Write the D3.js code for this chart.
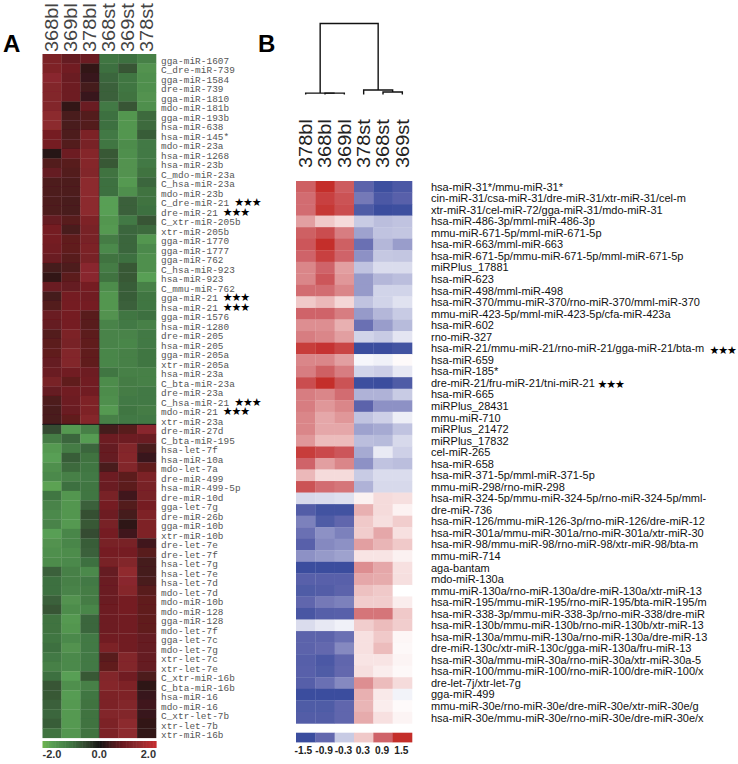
<!DOCTYPE html>
<html><head><meta charset="utf-8">
<script src="https://cdn.jsdelivr.net/npm/d3@7/dist/d3.min.js"></script>
<style>html,body{margin:0;padding:0;background:#fff}svg{display:block}</style>
</head><body><svg id="c" width="738" height="764"><defs><filter id="soft" x="-2%" y="-2%" width="104%" height="104%"><feGaussianBlur stdDeviation="0.45"/></filter></defs></svg>
<script>
const aColumns=["368bl","369bl","378bl","368st","369st","378st"];
const aRows=["gga-miR-1607","C_dre-miR-739","gga-miR-1584","dre-miR-739","gga-miR-1810","mdo-miR-181b","gga-miR-193b","hsa-miR-638","hsa-miR-145*","mdo-miR-23a","hsa-miR-1268","hsa-miR-23b","C_mdo-miR-23a","C_hsa-miR-23a","mdo-miR-23b","C_dre-miR-21","dre-miR-21","C_xtr-miR-205b","xtr-miR-205b","gga-miR-1770","gga-miR-1777","gga-miR-762","C_hsa-miR-923","hsa-miR-923","C_mmu-miR-762","gga-miR-21","hsa-miR-21","gga-miR-1576","hsa-miR-1280","dre-miR-205","hsa-miR-205","gga-miR-205a","xtr-miR-205a","hsa-miR-23a","C_bta-miR-23a","dre-miR-23a","C_hsa-miR-21","mdo-miR-21","xtr-miR-23a","dre-miR-27d","C_bta-miR-195","hsa-let-7f","hsa-miR-10a","mdo-let-7a","dre-miR-499","hsa-miR-499-5p","dre-miR-10d","gga-let-7g","dre-miR-26b","gga-miR-10b","xtr-miR-10b","dre-let-7e","dre-let-7f","hsa-let-7g","hsa-let-7e","hsa-let-7d","mdo-let-7d","mdo-miR-10b","mdo-miR-128","gga-miR-128","mdo-let-7f","gga-let-7c","mdo-let-7g","xtr-let-7c","xtr-let-7e","C_xtr-miR-16b","C_bta-miR-16b","hsa-miR-16","mdo-miR-16","C_xtr-let-7b","xtr-let-7b","xtr-miR-16b"];
const aValues=[
[1.05,.75,.8,-1.05,-.95,-1.2],[1.1,.9,.25,-.95,-.65,-1.5],[1.25,.8,.3,-.85,-1.05,-1.45],[1.15,.85,.4,-.8,-1.05,-1.45],[1.15,.85,.3,-.8,-1,-1.5],[1.15,.25,.8,-1.1,-.65,-1.45],
[1.3,.45,.55,-.95,-1.55,-.9],[1.3,.45,.55,-.95,-1.55,-.9],[.95,.5,1.05,-1.1,-1.55,-.75],[.95,.55,1,-1.05,-1.4,-1.1],[.15,.85,1.2,-.7,-1.45,-1.1],[.55,.6,1.2,-.7,-1.5,-1.1],
[.75,.55,1.15,-1,-1.5,-1],[.5,.5,1.3,-.95,-1.6,-.85],[.5,.5,1.3,-.95,-1.45,-1],[.5,.45,1.3,-1.7,-.8,-1],[.5,.45,1.3,-1.7,-.8,-.95],[.75,.6,1.1,-1.55,-1.1,-.65],
[.95,.45,1,-1.6,-.85,-.9],[.95,.7,1,-1.15,-.85,-1.55],[.9,.7,1.05,-1.35,-.85,-1.35],[.8,.6,1,-1,-.95,-1.45],[.4,.5,1.25,-1.15,-.7,-1.45],[.25,.65,1.25,-1,-.7,-1.7],
[.8,.75,.95,-1.4,-.75,-1.2],[.4,.95,.9,-1.55,-.75,-1.05],[.55,.95,.95,-1.55,-.8,-1.05],[.8,.95,.6,-1.5,-1.05,-.95],[.75,.95,.6,-1.25,-1.1,-1.2],[.55,1.05,.65,-1.25,-1.25,-1.1],
[.65,1,.7,-1.25,-1.3,-1.1],[.7,1.15,.7,-1.3,-1.2,-1.05],[.75,1.15,.7,-1.3,-1.2,-1.05],[.8,.9,.85,-1.05,-1.2,-1.2],[1,.7,.9,-1.4,-1.15,-1.2],[.75,.9,.9,-1.4,-1.15,-1.1],
[.5,.85,1.1,-1.45,-1.1,-1.1],[.45,.8,1.1,-1.6,-1.05,-1.15],[.45,.7,1.2,-1.2,-1.1,-1.1],[-.55,-1.6,-1.2,.4,.6,1.25],[-1.15,-.85,-1.65,.85,.85,.8],[-1.6,-1.15,-.85,.75,1.15,.45],
[-1.7,-.75,-1,.75,1.2,.3],[-1.45,-.9,-1.05,.45,1.15,.7],[-1.35,-1.2,-1.1,.85,.65,1.05],[-1.75,-.95,-1.05,.8,.65,1],[-1.05,-1.55,-1.05,1,.35,1],[-1.25,-1.55,-.8,.95,.55,.95],
[-1.35,-1.55,-.6,.85,.4,1.1],[-1.25,-1.6,-.7,1,.2,1.1],[-1.7,-1.3,-.55,.95,.35,1.1],[-1.5,-1.3,-.75,1,1,.35],[-1.45,-1.4,-.8,.95,.95,.6],[-1.4,-1.35,-.95,1,1.15,.4],
[-.8,-1.2,-1.35,.75,1.35,.4],[-.95,-1.2,-1.1,.8,1.25,.45],[-.95,-1.25,-1.15,.8,1.2,.6],[-.8,-1.5,-1.15,.8,.95,.7],[-.65,-1.4,-1.3,.85,.95,.7],[-1,-1.6,-.85,.85,.9,.7],
[-1,-1.55,-.85,.85,.9,.7],[-1.05,-1.35,-1.1,.9,.9,.75],[-.95,-1.5,-1.1,1.05,.9,.75],[-1.1,-1.35,-1.1,.6,1.15,.75],[-1.2,-1.35,-1.1,.7,1.15,.75],[-.95,-1.7,-.7,1.15,.9,.5],
[-.65,-1.45,-1.2,1.2,1.1,.2],[-.7,-1.65,-1.05,1.05,1.1,.3],[-.8,-1.6,-1,1.05,1.15,.35],[-.85,-1.6,-1,1.15,1.15,.3],[-.75,-1.6,-1,1.05,1.3,.25],[-1,-1.55,-1,1.05,1.3,.25]];
const aStarred=["C_dre-miR-21","dre-miR-21","gga-miR-21","hsa-miR-21","C_hsa-miR-21","mdo-miR-21"];
const aLegendTicks=[-2,0,2];

const bColumns=["378bl","368bl","369bl","378st","368st","369st"];
const bRows=["hsa-miR-31*/mmu-miR-31*","cin-miR-31/csa-miR-31/dre-miR-31/xtr-miR-31/cel-m","xtr-miR-31/cel-miR-72/gga-miR-31/mdo-miR-31","hsa-miR-486-3p/mml-miR-486-3p","mmu-miR-671-5p/mml-miR-671-5p","hsa-miR-663/mml-miR-663","hsa-miR-671-5p/mmu-miR-671-5p/mml-miR-671-5p","miRPlus_17881","hsa-miR-623","hsa-miR-498/mml-miR-498","hsa-miR-370/mmu-miR-370/rno-miR-370/mml-miR-370","mmu-miR-423-5p/mml-miR-423-5p/cfa-miR-423a","hsa-miR-602","rno-miR-327","hsa-miR-21/mmu-miR-21/rno-miR-21/gga-miR-21/bta-m","hsa-miR-659","hsa-miR-185*","dre-miR-21/fru-miR-21/tni-miR-21","hsa-miR-665","miRPlus_28431","mmu-miR-710","miRPlus_21472","miRPlus_17832","cel-miR-265","hsa-miR-658","hsa-miR-371-5p/mml-miR-371-5p","mmu-miR-298/rno-miR-298","hsa-miR-324-5p/mmu-miR-324-5p/rno-miR-324-5p/mml-","dre-miR-736","hsa-miR-126/mmu-miR-126-3p/rno-miR-126/dre-miR-12","hsa-miR-301a/mmu-miR-301a/rno-miR-301a/xtr-miR-30","hsa-miR-98/mmu-miR-98/rno-miR-98/xtr-miR-98/bta-m","mmu-miR-714","aga-bantam","mdo-miR-130a","mmu-miR-130a/rno-miR-130a/dre-miR-130a/xtr-miR-13","hsa-miR-195/mmu-miR-195/rno-miR-195/bta-miR-195/m","hsa-miR-338-3p/mmu-miR-338-3p/rno-miR-338/dre-miR","hsa-miR-130b/mmu-miR-130b/rno-miR-130b/xtr-miR-13","hsa-miR-130a/mmu-miR-130a/rno-miR-130a/dre-miR-13","dre-miR-130c/xtr-miR-130c/gga-miR-130a/fru-miR-13","hsa-miR-30a/mmu-miR-30a/rno-miR-30a/xtr-miR-30a-5","hsa-miR-100/mmu-miR-100/rno-miR-100/dre-miR-100/x","dre-let-7j/xtr-let-7g","gga-miR-499","mmu-miR-30e/rno-miR-30e/dre-miR-30e/xtr-miR-30e/g","hsa-miR-30e/mmu-miR-30e/rno-miR-30e/dre-miR-30e/x"];
const bValues=[
[.95,1.5,1,-1,-1.45,-1.25],[.85,1.3,1.1,-.8,-1.25,-1.05],[.85,1.4,1.15,-1.2,-1.5,-1.45],[.55,.3,.2,-.3,-.38,-.35],[.95,1.15,.75,-.55,-.35,-.33],[1.05,1.5,.95,-.85,-.42,-.58],
[.9,1.3,.9,-.65,-.32,-.33],[.7,.9,.55,-.35,-.2,-.2],[.7,1.05,.6,-.6,-.42,-.38],[.85,.85,.7,-.6,-.25,-.25],[.3,.4,.22,-.35,-.25,-.17],[.9,.9,.75,-.6,-.42,-.3],
[.65,.65,.45,-.85,-.58,-.4],[.75,.7,.55,-.25,-.3,-.15],[1.35,1.45,1.25,-1.5,-1.5,-1.4],[.7,.7,.55,-.05,-.08,.03],[.75,.95,.75,-.25,-.28,-.13],[1.15,1.5,1.1,-1.45,-1.5,-1.2],
[.75,.7,.85,-.45,-.45,-.3],[.75,.6,.7,-1,-.65,-.65],[.7,.5,.6,-.35,-.27,-.1],[.7,.5,.5,-.55,-.5,-.35],[.6,.38,.38,-.38,-.4,-.22],[1.35,1.2,1.05,-.5,-.12,-.27],
[.9,.55,.7,-.65,-.35,-.38],[.4,.2,.2,-.3,-.2,-.2],[1.1,.85,.8,-.45,-.22,-.22],[-.22,-.2,-.18,.08,.2,.18],[-1.15,-1.4,-1.4,.45,.2,.07],[-.75,-1.2,-.95,.3,.18,.28],
[-.85,-.65,-.75,.28,.5,.17],[-1.05,-.7,-.65,.55,.42,.3],[-.65,-.6,-.55,.15,.15,.08],[-1.5,-1.5,-1.5,.65,.5,.17],[-1.05,-1.05,-1.05,.5,.48,.18],[-1.2,-1.15,-1,.35,.3,0],
[-.95,-.8,-.75,.28,.28,.1],[-1.3,-1.1,-1.05,.8,.8,.3],[-.2,-.13,-.08,.28,.38,.28],[-1,-1,-.85,.17,.3,.05],[-1,-.9,-.7,.17,.38,.04],[-1.1,-1.25,-.95,.15,.15,.06],
[-1.05,-1.2,-.9,.18,.1,.04],[-1.1,-.85,-.7,.65,.38,.2],[-1.5,-1.5,-1.5,.45,.12,-.07],[-1.2,-1.2,-.95,.42,.1,.03],[-1.15,-1.15,-.95,.48,.17,.06]];
const bStarred=["hsa-miR-21/mmu-miR-21/rno-miR-21/gga-miR-21/bta-m","dre-miR-21/fru-miR-21/tni-miR-21"];
const bLegendTicks=[-1.5,-.9,-.3,.3,.9,1.5];
const dendroHeights={root:1,left:.02,right:.063,rightInner:.035,leaf:0};

const svg=d3.select("#c");
const sans="'Liberation Sans',Arial,sans-serif";

const aColor=d3.scaleLinear().domain([-2,-1.7,-1,-.5,0,.4,.8,1.3,2]).range(["#6cb24f","#599f54","#3f7341","#33472f","#151313","#451a1c","#6a1a20","#8c2a2e","#c82c2f"]);
const bColor=d3.scaleLinear().domain([-1.5,-.9,-.3,0,.3,.9,1.5]).range(["#3b4d9e","#6368ae","#c8cbe4","#ffffff","#f0c9c9","#cf6469","#c42f2c"]);

function heat(cols,rows,vals,color,xr,yr){
  const x=d3.scaleBand().domain(cols).range(xr);
  const y=d3.scaleBand().domain(rows).range(yr);
  const g=svg.append("g").attr("filter","url(#soft)");
  g.selectAll("g").data(vals).join("g").attr("transform",(d,i)=>`translate(0,${y(rows[i])})`)
    .selectAll("rect").data(d=>d).join("rect")
    .attr("x",(d,i)=>x(cols[i])).attr("width",x.bandwidth()+.3)
    .attr("height",y.bandwidth()+.3).attr("fill",d=>color(d));
  return {x,y,g};
}
function colHeader(x,yBase,fill){
  svg.append("g").selectAll("text").data(x.domain()).join("text")
    .attr("transform",d=>`translate(${x(d)+x.bandwidth()/2+6.2},${yBase}) rotate(-90) scale(1.11,1)`)
    .attr("font-family",sans).attr("font-size",18).attr("fill",fill).text(d=>d);
}
const starFont={"font-family":"'DejaVu Sans'","font-size":11,"letter-spacing":-1.1,"fill":"#000"};
function styleStars(sel){Object.entries(starFont).forEach(([k,v])=>sel.attr(k,v));return sel;}

// Panel A
const A=heat(aColumns,aRows,aValues,aColor,[42.5,156],[54,737.8]);
colHeader(A.x,52,"#444");
svg.append("g").attr("transform","translate(156.5,2)")
  .call(d3.axisRight(A.y).tickSize(0).tickPadding(4.5))
  .call(g=>g.select(".domain").remove())
  .call(g=>g.selectAll("text").attr("font-family","'Liberation Mono',monospace").attr("font-size",9.4).attr("letter-spacing",.06).attr("fill","#555"));
A.g.append("line").attr("x1",42.5).attr("x2",156).attr("y1",A.y("dre-miR-27d")).attr("y2",A.y("dre-miR-27d")).attr("stroke","#111").attr("stroke-width",.9);
A.g.append("line").attr("x1",A.x("368st")).attr("x2",A.x("368st")).attr("y1",54).attr("y2",737.8).attr("stroke","#222").attr("stroke-width",.5);
const aStarX=n=>161+n.length*5.72+4.5;
styleStars(svg.append("g").selectAll("text").data(aStarred).join("text")
  .attr("x",aStarX).attr("y",d=>A.y(d)+A.y.bandwidth()/2+5).text("★★★"));
const aLeg=d3.scaleLinear().domain([-2,2]).range([42.5,156]);
svg.append("g").selectAll("rect").data(d3.range(-2,2,.05)).join("rect")
  .attr("x",d=>aLeg(d)).attr("width",aLeg(-1.95)-aLeg(-2)+.6).attr("y",741).attr("height",7).attr("fill",d=>aColor(d));
svg.append("g").selectAll("text").data(aLegendTicks).join("text")
  .attr("x",d=>aLeg(d)).attr("y",758)
  .attr("text-anchor",d=>d<0?"start":d>0?"end":"middle")
  .attr("font-family",sans).attr("font-weight","bold").attr("font-size",11).attr("fill","#333")
  .text(d=>d.toFixed(1));

// Panel B
const B=heat(bColumns,bRows,bValues,bColor,[296,412],[181,723.4]);
colHeader(B.x,168,"#222");
svg.append("g").attr("transform","translate(412,0.4)")
  .call(d3.axisRight(B.y).tickSize(0).tickPadding(19))
  .call(g=>g.select(".domain").remove())
  .call(g=>g.selectAll("text").attr("font-family",sans).attr("font-size",11).attr("fill","#111"));
styleStars(svg.append("g").selectAll("text").data(bStarred).join("text")
  .attr("x",(d,i)=>i==0?709.5:597.5).attr("y",d=>B.y(d)+B.y.bandwidth()/2+5.2).text("★★★"));
const bLeg=d3.scaleBand().domain(bLegendTicks).range([296,412]);
svg.append("g").attr("filter","url(#soft)").selectAll("rect").data(bLegendTicks).join("rect")
  .attr("x",d=>bLeg(d)).attr("width",bLeg.bandwidth()+.3).attr("y",732.7).attr("height",9.7).attr("fill",d=>bColor(d));
svg.append("g").selectAll("text").data(bLegendTicks).join("text")
  .attr("x",(d,i)=>bLeg(d)+bLeg.bandwidth()/2-(i==0?2.3:.9)).attr("y",753.5).attr("text-anchor","middle")
  .attr("font-family",sans).attr("font-weight","bold").attr("font-size",10.2).attr("fill","#222")
  .text(d=>d.toFixed(1));

// Dendrogram
const hY=d3.scaleLinear().domain([0,1]).range([94.5,23.5]);
const cx=n=>B.x(n)+B.x.bandwidth()/2;
const leaf=n=>({x:cx(n),h:dendroHeights.leaf});
function merge(a,b,h,seg){
  seg.push([[a.x,hY(a.h)],[a.x,hY(h)],[b.x,hY(h)],[b.x,hY(b.h)]]);
  return {x:(a.x+b.x)/2,h};
}
const segs=[];
const l1=merge(leaf("368bl"),leaf("369bl"),dendroHeights.left,segs);
const l2=merge(leaf("378bl"),l1,dendroHeights.left,segs);
const r1=merge(leaf("368st"),leaf("369st"),dendroHeights.rightInner,segs);
const r2=merge(leaf("378st"),r1,dendroHeights.right,segs);
merge(l2,r2,dendroHeights.root,segs);
svg.append("g").selectAll("path").data(segs).join("path")
  .attr("d",d3.line()).attr("fill","none").attr("stroke","#111").attr("stroke-width",1.4);

// Panel letters
svg.append("text").attr("x",3).attr("y",52).attr("font-family",sans).attr("font-weight","bold").attr("font-size",24).attr("fill","#000").text("A");
svg.append("text").attr("x",258).attr("y",52).attr("font-family",sans).attr("font-weight","bold").attr("font-size",24).attr("fill","#000").text("B");
</script></body></html>
